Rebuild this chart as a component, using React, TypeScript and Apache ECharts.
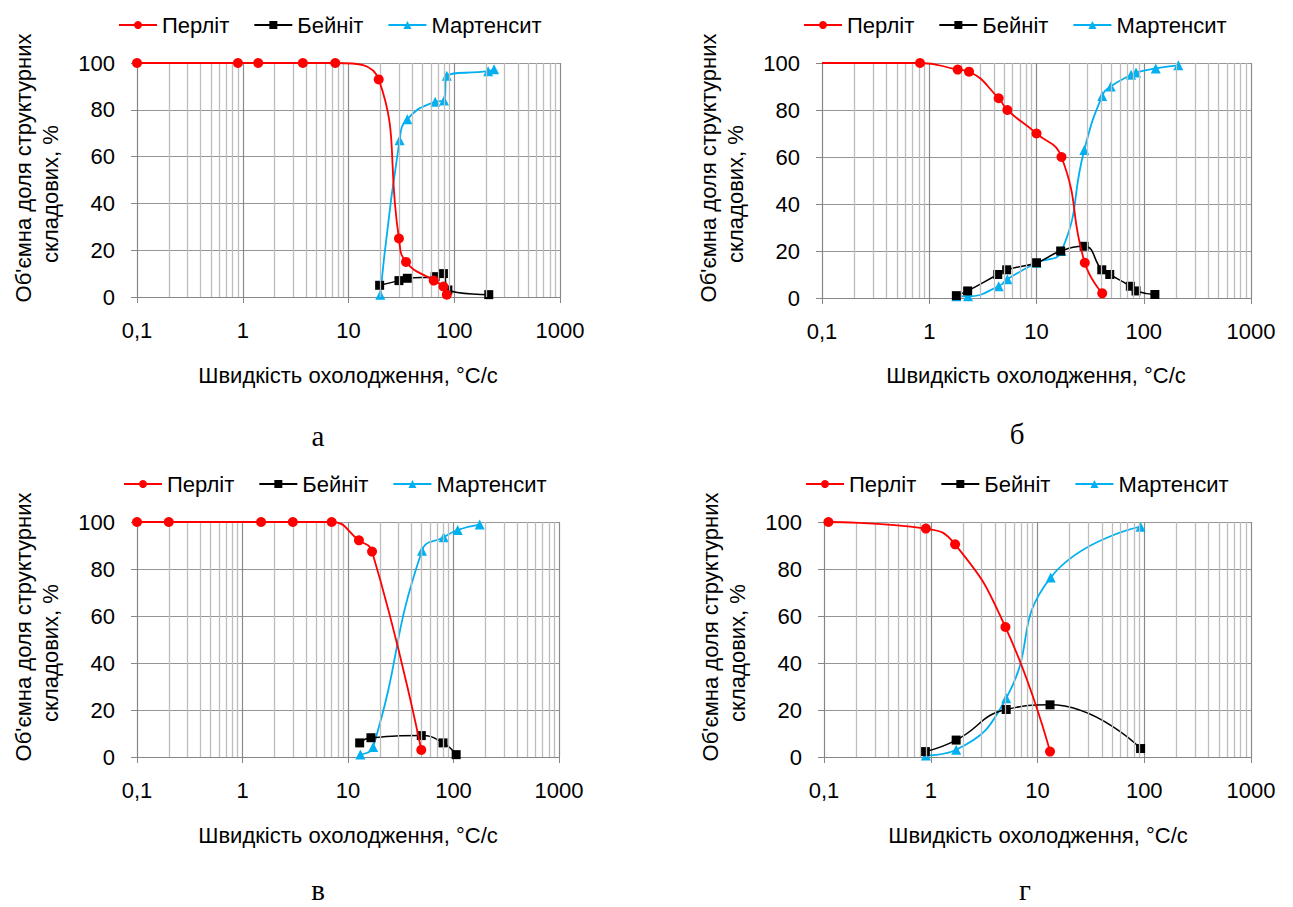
import React, { useEffect, useRef } from "react";
import * as echarts from "echarts";

// ---------- DATA ----------
const seriesNames = ["Перліт", "Бейніт", "Мартенсит"];
const xTickLabels = ["0,1", "1", "10", "100", "1000"];
const xTitle = "Швидкість охолодження, °C/с";
const yTitleLine1 = "Об'ємна доля структурних";
const yTitleLine2 = "складових, %";
const panelLetters = ["а", "б", "в", "г"];

// panel а
const aPerlit = [[0.1, 100], [0.9, 100], [1.4, 100], [3.7, 100], [7.5, 100], [19.3, 93], [30, 25], [35, 15], [64, 7], [79, 4.5], [85, 1]];
const aBainit = [[19.7, 5], [30, 7], [36, 8], [66, 8.7], [79, 10], [87, 3], [212, 1]];
const aMartensit = [[20, 1], [30.4, 67], [36, 76], [66, 83.4], [80, 84], [85, 94.5], [209, 96.5], [238, 97.3]];

// panel б
const bPerlit = [[0.1, 100], [0.82, 100], [1.84, 97.2], [2.35, 96.3], [4.44, 85], [5.35, 80], [10, 70], [17.1, 60], [28.2, 15], [41, 2]];
const bBainit = [[1.79, 1], [2.28, 3], [4.35, 10], [5.27, 12], [10, 15], [16.8, 20], [27.8, 22], [40.6, 12], [48.2, 10], [75, 5], [84.7, 3], [127, 1.5]];
const bMartensit = [[1.79, 0.7], [2.3, 0.7], [4.44, 5], [5.35, 8], [10, 15], [17.1, 20], [27.9, 63], [41, 86], [49.2, 90], [76.2, 95], [84.7, 96], [129.4, 97.7], [210, 99]];

// panel в
const vPerlit = [[0.1, 100], [0.2, 100], [1.5, 100], [3, 100], [7, 100], [12.7, 92.2], [16.9, 87.4], [49.5, 3]];
const vBainit = [[12.9, 6], [16.5, 8.2], [49.5, 9.1], [79.6, 6], [106, 1]];
const vMartensit = [[13.1, 1.1], [17.3, 4.3], [50.3, 87.8], [80.7, 93.5], [109.6, 96.6], [177, 98.9]];

// panel г
const gPerlit = [[0.11, 100], [0.9, 97.2], [1.69, 90.5], [5.01, 55.3], [13.1, 2.3]];
const gBainit = [[0.89, 2.3], [1.73, 7.2], [5.09, 20.2], [13.1, 22.2], [92.4, 3.6]];
const gMartensit = [[0.9, 0.6], [1.73, 3.1], [5.09, 25], [13.3, 76.4], [92.4, 98]];

// ---------- LAYOUT / STYLE ----------
const FONT = "'Liberation Sans', Arial, sans-serif";
const SERIF = "'Liberation Serif', 'Times New Roman', serif";
const COLORS = ["#FF0000", "#000000", "#00B0F0"];
const SYMBOLS = ["circle", "rect", "triangle"];
const SYMBOL_SIZES = [10, 9, 10];

const panels = [
  { grid: { left: 137, top: 63, width: 423, height: 234 }, data: [aPerlit, aBainit, aMartensit], legend: { left: 113, top: 9 }, xTitle: [348, 375], letter: [318, 436], yTitle: [23, 168, 50, 194], hideFirst: false },
  { grid: { left: 822, top: 63, width: 429, height: 235 }, data: [bPerlit, bBainit, bMartensit], legend: { left: 798, top: 9 }, xTitle: [1036, 375], letter: [1017, 434], yTitle: [708, 168, 735, 194], hideFirst: true },
  { grid: { left: 137, top: 522, width: 422, height: 235 }, data: [vPerlit, vBainit, vMartensit], legend: { left: 118, top: 468 }, xTitle: [348, 835], letter: [318, 890], yTitle: [23, 627, 50, 653], hideFirst: false },
  { grid: { left: 824, top: 522, width: 427, height: 235 }, data: [gPerlit, gBainit, gMartensit], legend: { left: 800, top: 468 }, xTitle: [1038, 835], letter: [1025, 890], yTitle: [710, 627, 737, 653], hideFirst: false },
];

const minorGridValues: number[] = [];
[0.1, 1, 10, 100].forEach((d) => {
  for (let k = 2; k <= 9; k++) minorGridValues.push(+(d * k).toPrecision(3));
});

function fmtX(v: number) {
  const idx = Math.round(Math.log10(v)) + 1;
  return xTickLabels[idx] ?? String(v);
}

export default function App() {
  const ref = useRef<HTMLDivElement>(null);
  useEffect(() => {
    if (!ref.current) return;
    const chart = echarts.init(ref.current, undefined, { renderer: "svg" });

    const grids: any[] = [];
    const xAxes: any[] = [];
    const yAxes: any[] = [];
    const series: any[] = [];
    const legends: any[] = [];
    const graphics: any[] = [];

    panels.forEach((p, i) => {
      grids.push({ ...p.grid, containLabel: false });
      xAxes.push({
        type: "log",
        logBase: 10,
        min: 0.1,
        max: 1000,
        gridIndex: i,
        axisLine: { show: true, lineStyle: { color: "#868686", width: 1 } },
        axisTick: { show: true, length: 6, lineStyle: { color: "#868686" } },
        axisLabel: { formatter: fmtX, fontSize: 22, fontFamily: FONT, color: "#000", margin: 22 },
        splitLine: { show: true, lineStyle: { color: "#8a8a8a", width: 1.2 } },
      });
      yAxes.push({
        type: "value",
        min: 0,
        max: 100,
        interval: 20,
        gridIndex: i,
        axisLine: { show: true, lineStyle: { color: "#868686", width: 1 } },
        axisTick: { show: true, length: 6, lineStyle: { color: "#868686" } },
        axisLabel: { fontSize: 22, fontFamily: FONT, color: "#000", margin: 22 },
        splitLine: { show: true, lineStyle: { color: "#969696", width: 1.2 } },
      });
      // minor vertical grid lines
      series.push({
        type: "line",
        xAxisIndex: i,
        yAxisIndex: i,
        data: [],
        z: 1,
        silent: true,
        markLine: {
          silent: true,
          symbol: ["none", "none"],
          label: { show: false },
          lineStyle: { color: "#bdbdbd", width: 1.3, type: "solid" },
          data: minorGridValues.map((v) => ({ xAxis: v })),
        },
      });
      p.data.forEach((arr, s) => {
        series.push({
          name: seriesNames[s],
          type: "line",
          xAxisIndex: i,
          yAxisIndex: i,
          smooth: true,
          symbol: SYMBOLS[s],
          symbolSize: SYMBOL_SIZES[s],
          z: 3 + (2 - s),
          itemStyle: { color: COLORS[s] },
          lineStyle: { color: COLORS[s], width: s === 1 ? 1.5 : 1.8 },
          data: arr.map((pt, k) =>
            p.hideFirst && s === 0 && k === 0 ? { value: pt, symbol: "none" } : pt
          ),
        });
      });
      legends.push({
        data: seriesNames,
        left: p.legend.left,
        top: p.legend.top,
        orient: "horizontal",
        itemWidth: 38,
        itemHeight: 10,
        itemGap: 24,
        selectedMode: false,
        textStyle: { fontSize: 22, fontFamily: FONT, color: "#000", padding: [0, 0, 0, 0] },
      });
      graphics.push({
        type: "text",
        x: p.xTitle[0],
        y: p.xTitle[1],
        style: { text: xTitle, fontSize: 22, fontFamily: FONT, fill: "#000", textAlign: "center", textVerticalAlign: "middle" },
      });
      graphics.push({
        type: "text",
        x: p.letter[0],
        y: p.letter[1],
        style: { text: panelLetters[i], fontSize: 29, fontFamily: SERIF, fill: "#000", textAlign: "center", textVerticalAlign: "middle" },
      });
      graphics.push({
        type: "text",
        x: p.yTitle[0],
        y: p.yTitle[1],
        rotation: Math.PI / 2,
        style: { text: yTitleLine1, fontSize: 22, fontFamily: FONT, fill: "#000", textAlign: "center", textVerticalAlign: "middle" },
      });
      graphics.push({
        type: "text",
        x: p.yTitle[2],
        y: p.yTitle[3],
        rotation: Math.PI / 2,
        style: { text: yTitleLine2, fontSize: 22, fontFamily: FONT, fill: "#000", textAlign: "center", textVerticalAlign: "middle" },
      });
    });

    chart.setOption({
      animation: false,
      backgroundColor: "#ffffff",
      textStyle: { fontFamily: FONT },
      grid: grids,
      xAxis: xAxes,
      yAxis: yAxes,
      legend: legends,
      series,
      graphic: graphics,
    });
    return () => chart.dispose();
  }, []);

  return (
    <div
      ref={ref}
      style={{ position: "fixed", left: 0, top: 0, width: 1293, height: 907, background: "#fff" }}
    />
  );
}
